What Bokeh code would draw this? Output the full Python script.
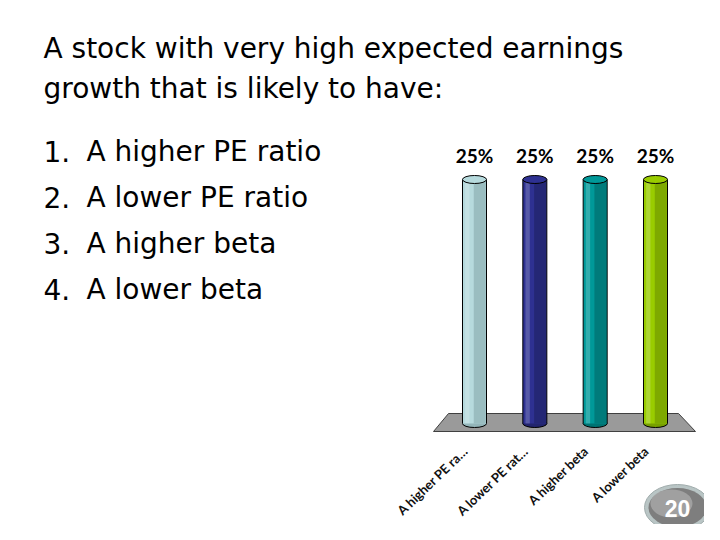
import math
from bokeh.plotting import figure
from bokeh.models import Range1d, ColumnDataSource
from bokeh.core.properties import value
from bokeh.embed import file_html
from bokeh.resources import INLINE

# ---------------- data ----------------
title_lines = ["A stock with very high expected earnings", "growth that is likely to have:"]
option_numbers = ["1.", "2.", "3.", "4."]
option_texts = ["A higher PE ratio", "A lower PE ratio", "A higher beta", "A lower beta"]
category_labels = ["A higher PE ra\u2026", "A lower PE rat\u2026", "A higher beta", "A lower beta"]
values = [25, 25, 25, 25]
bar_colors = ["#b6dadd", "#2e3192", "#009999", "#99cc00"]
bar_shades = ["#93b5b9", "#22256e", "#007373", "#77a000"]
countdown = "20"

W, H = 704, 524
p = figure(width=W, height=H, output_backend="svg", toolbar_location=None,
           x_range=Range1d(0, W), y_range=Range1d(H, 0),
           min_border=0, outline_line_color=None, background_fill_color="white")
p.axis.visible = False
p.grid.visible = False

# bar scales: base at page y=423, 25% at page y=179; bar centres 474 + 60.33*i
px_per_unit = (423 - 179) / 25.0
p.extra_y_ranges = {"pct": Range1d(-(H - 423) / px_per_unit, 423 / px_per_unit)}
step = 60.33
p.extra_x_ranges = {"cat": Range1d(-474 / step, (W - 474) / step)}

# ---------------- title & options ----------------
font = value("DejaVu Sans")
p.text(x=[43, 43], y=[48, 88], text=title_lines, text_font=font, text_font_size="28px",
       text_baseline="alphabetic", text_align="left", text_color="black")
ys = [151, 197, 243, 289]
p.text(x=[43] * 4, y=ys, text=option_numbers, text_font=font, text_font_size="28px",
       text_baseline="alphabetic", text_color="black")
p.text(x=[86] * 4, y=ys, text=option_texts, text_font=font, text_font_size="28px",
       text_baseline="alphabetic", text_color="black")

# ---------------- floor ----------------
p.patch(x=[448, 678, 695, 433], y=[413, 413, 431, 431], fill_color="#9a9a9a",
        line_color="#404040", line_width=1)

# ---------------- bars (cylinders) ----------------
pos = list(range(len(values)))
bw = 24 / step
src = ColumnDataSource(dict(x=pos, top=values, c=bar_colors, s=bar_shades,
                            xr=[v + bw * 0.22 for v in pos], xl=[v - bw * 0.3 for v in pos],
                            zero=[0] * len(values),
                            lab=[f"{v}%" for v in values]))
p.ellipse(x="x", y="zero", width=24, height=8, width_units="screen", height_units="screen",
          fill_color="s", line_color="black", line_width=1,
          source=src, x_range_name="cat", y_range_name="pct")
p.vbar(x="x", top="top", bottom=0, width=bw, fill_color="c", line_color=None,
       source=src, x_range_name="cat", y_range_name="pct")
p.vbar(x="xr", top="top", bottom=0, width=bw * 0.5, fill_color="s", line_color=None,
       fill_alpha=0.8, source=src, x_range_name="cat", y_range_name="pct")
p.vbar(x="xl", top="top", bottom=0, width=bw * 0.18, fill_color="white", line_color=None,
       fill_alpha=0.2, source=src, x_range_name="cat", y_range_name="pct")
p.segment(x0=[v - bw / 2 for v in pos], x1=[v - bw / 2 for v in pos], y0=[0] * 4, y1=values,
          line_color="black", line_width=1, x_range_name="cat", y_range_name="pct")
p.segment(x0=[v + bw / 2 for v in pos], x1=[v + bw / 2 for v in pos], y0=[0] * 4, y1=values,
          line_color="black", line_width=1, x_range_name="cat", y_range_name="pct")
p.ellipse(x="x", y="top", width=24, height=8, width_units="screen", height_units="screen",
          fill_color="c", line_color="black", line_width=1,
          source=src, x_range_name="cat", y_range_name="pct")

# percent labels
p.text(x="x", y="top", text="lab", source=src, x_range_name="cat", y_range_name="pct",
       y_offset=-24, text_align="center", text_baseline="middle",
       text_font=value("Lato"), text_font_style="bold", text_font_size="19px", text_color="black")

# category labels (rotated), end anchored below each bar
src2 = ColumnDataSource(dict(x=[v - 9 / step for v in pos], y=[448] * len(values), t=category_labels))
p.text(x="x", y="y", text="t", source=src2, x_range_name="cat",
       angle=math.radians(44), text_align="right", text_baseline="middle",
       text_font=value("Lato"), text_font_style="bold", text_font_size="13px", text_color="#111111")

# ---------------- countdown badge ----------------
p.ellipse(x=[677], y=[507], width=66, height=46, fill_color="#b9c5c5", line_color="#a0acac")
p.ellipse(x=[677], y=[507], width=58, height=39, fill_color="#7e7e7e", line_color=None)
p.ellipse(x=[671], y=[503], width=42, height=28, fill_color="#a9a9a9", line_color=None, fill_alpha=0.8)
p.text(x=[677], y=[508], text=[countdown], text_font=value("Liberation Sans"), text_font_style="bold",
       text_font_size="23px", text_align="center", text_baseline="middle", text_color="white")

open("out.html", "w").write(file_html(p, INLINE))
